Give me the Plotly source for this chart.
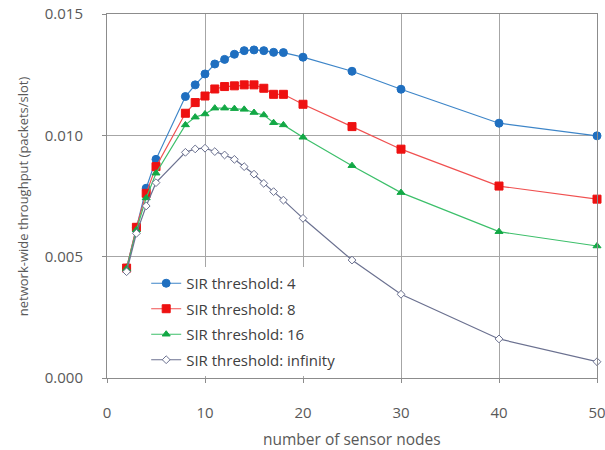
import plotly.graph_objects as go

nodes = [2, 3, 4, 5, 8, 9, 10, 11, 12, 13, 14, 15, 16, 17, 18, 20, 25, 30, 40, 50]
sir4 = [0.00453, 0.00621, 0.00782, 0.00901, 0.01160, 0.01208, 0.01253, 0.01294, 0.01313, 0.01334,
        0.01349, 0.01352, 0.01349, 0.01342, 0.01341, 0.01322, 0.01264, 0.01190, 0.01050, 0.00998]
sir8 = [0.00453, 0.00621, 0.00761, 0.00871, 0.01091, 0.01135, 0.01162, 0.01191, 0.01201, 0.01204,
        0.01208, 0.01208, 0.01194, 0.01169, 0.01169, 0.01128, 0.01036, 0.00943, 0.00791, 0.00737]
sir16 = [0.00450, 0.00610, 0.00742, 0.00844, 0.01043, 0.01075, 0.01088, 0.01112, 0.01112, 0.01110,
         0.01107, 0.01094, 0.01084, 0.01052, 0.01043, 0.00992, 0.00875, 0.00764, 0.00603, 0.00544]
sirinf = [0.00438, 0.00596, 0.00709, 0.00805, 0.00930, 0.00944, 0.00947, 0.00933, 0.00919, 0.00901,
          0.00871, 0.00840, 0.00802, 0.00768, 0.00733, 0.00658, 0.00486, 0.00345, 0.00161, 0.00067]

names = ["SIR threshold: 4", "SIR threshold: 8", "SIR threshold: 16", "SIR threshold: infinity"]
series = [sir4, sir8, sir16, sirinf]
line_colors = ["#3d85c8", "#f05050", "#3cbf6a", "#6b7190"]
marker_colors = ["#1f6fc0", "#ee1111", "#12a845", "white"]
marker_line = ["#1f6fc0", "#ee1111", "#12a845", "#6b7190"]
symbols = ["circle", "square", "triangle-up", "diamond"]
sizes = [8, 8, 7, 6]

fig = go.Figure()
for i in range(4):
    fig.add_trace(go.Scatter(
        x=nodes, y=series[i], name=names[i], mode="lines+markers",
        legendgroup=str(i),
        line=dict(color=line_colors[i], width=1.2),
        marker=dict(symbol=symbols[i], size=sizes[i], color=marker_colors[i],
                    line=dict(color=marker_line[i], width=1)),
        cliponaxis=False,
    ))

axis_common = dict(
    showline=True, linecolor="#8c8c8c", linewidth=1, mirror=True,
    showgrid=True, gridcolor="#a6a6a6", gridwidth=1,
    ticks="outside", ticklen=4, tickcolor="#8c8c8c",
    zeroline=False, automargin=False, ticklabeloverflow="allow",
    tickfont=dict(family="Open Sans, sans-serif", size=15, color="#595959"),
)

fig.update_layout(
    width=605, height=450,
    margin=dict(l=107, r=8, t=14, b=72),
    paper_bgcolor="white", plot_bgcolor="white",
    font=dict(family="Open Sans, sans-serif", color="#404040"),
    xaxis=dict(range=[0, 50], tickvals=[0, 10, 20, 30, 40, 50], ticklabelstandoff=17,
               **axis_common),
    yaxis=dict(range=[0, 0.015], tickvals=[0, 0.005, 0.010, 0.015], tickformat=".3f",
               ticklabelstandoff=16, **axis_common),
    showlegend=True,
    legend=dict(x=0.08, y=0.305, xanchor="left", yanchor="top",
                bgcolor="white", borderwidth=0, traceorder="grouped", tracegroupgap=3,
                font=dict(family="Open Sans, sans-serif", size=15, color="#404040")),
    annotations=[
        dict(text="number of sensor nodes", xref="paper", yref="paper", x=0.5, y=-0.168,
             xanchor="center", yanchor="middle", showarrow=False,
             font=dict(family="Open Sans, sans-serif", size=15.5, color="#595959")),
        dict(text="network-wide throughput (packets/slot)", xref="paper", yref="paper",
             x=-0.171, y=0.5, xanchor="center", yanchor="middle", textangle=-90,
             showarrow=False,
             font=dict(family="Open Sans, sans-serif", size=13, color="#595959")),
    ],
)

fig.write_html("out.html")
